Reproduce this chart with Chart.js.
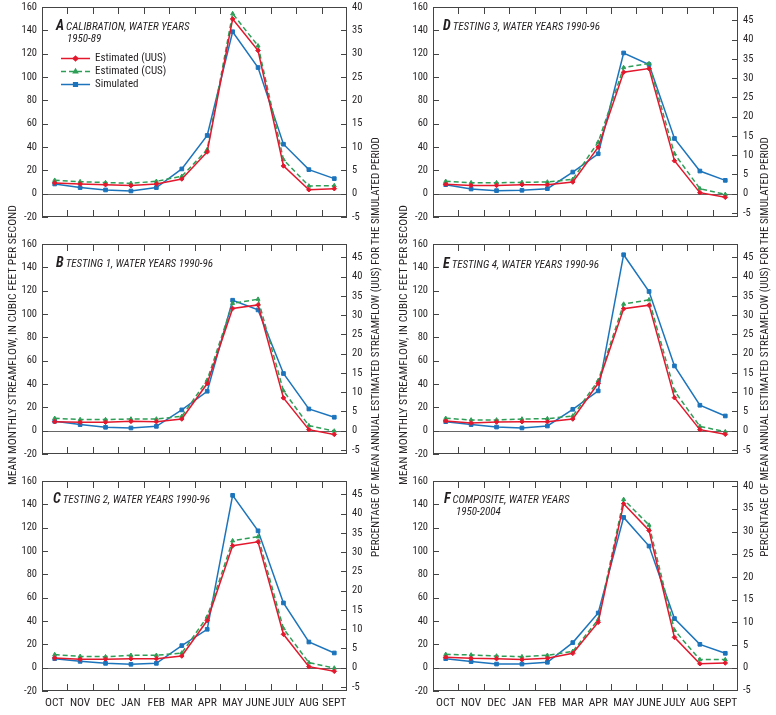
<!DOCTYPE html>
<html lang="en">
<head>
  <meta charset="UTF-8" />
  <title>Mean monthly streamflow</title>
  <script src="https://cdn.jsdelivr.net/npm/chart.js"></script>
  <style>
    body { margin: 0; background: #fff; }
    #wrap { position: relative; width: 776px; height: 715px; overflow: hidden; font-family: 'Roboto Condensed', 'DejaVu Sans Condensed', sans-serif; color: #231f20; }
    canvas { position: absolute; }
    .ptitle { position: absolute; font-style: italic; font-size: 11px; line-height: 12px; white-space: nowrap; }
    .ptitle b { font-size: 14px; margin-right: 2px; }
    .ytitle { position: absolute; width: 600px; height: 14px; line-height: 14px; font-size: 11px; text-align: center; transform: rotate(-90deg); white-space: nowrap; }
  </style>
</head>
<body>
<div id="wrap">
  <canvas id="cA"></canvas>
  <canvas id="cB"></canvas>
  <canvas id="cC"></canvas>
  <canvas id="cD"></canvas>
  <canvas id="cE"></canvas>
  <canvas id="cF"></canvas>

  <div class="ptitle" style="left:56px;top:19px"><b>A</b>CALIBRATION, WATER YEARS<br><span style="padding-left:11px">1950-89</span></div>
  <div class="ptitle" style="left:56px;top:256px"><b>B</b>TESTING 1, WATER YEARS 1990-96</div>
  <div class="ptitle" style="left:53px;top:492px"><b>C</b>TESTING 2, WATER YEARS 1990-96</div>
  <div class="ptitle" style="left:443px;top:19px"><b>D</b>TESTING 3, WATER YEARS 1990-96</div>
  <div class="ptitle" style="left:443px;top:257px"><b>E</b>TESTING 4, WATER YEARS 1990-96</div>
  <div class="ptitle" style="left:444px;top:492px"><b>F</b>COMPOSITE, WATER YEARS<br><span style="padding-left:12px">1950-2004</span></div>

  <div class="ytitle" data-len="280" style="left:-288px;top:338px">MEAN MONTHLY STREAMFLOW, IN CUBIC FEET PER SECOND</div>
  <div class="ytitle" data-len="280" style="left:103px;top:338px">MEAN MONTHLY STREAMFLOW, IN CUBIC FEET PER SECOND</div>
  <div class="ytitle" data-len="420" style="left:76px;top:340px">PERCENTAGE OF MEAN ANNUAL ESTIMATED STREAMFLOW (UUS) FOR THE SIMULATED PERIOD</div>
  <div class="ytitle" data-len="420" style="left:465px;top:340px">PERCENTAGE OF MEAN ANNUAL ESTIMATED STREAMFLOW (UUS) FOR THE SIMULATED PERIOD</div>
</div>

<script>
  // data (cubic feet per second)
  const months = ['OCT', 'NOV', 'DEC', 'JAN', 'FEB', 'MAR', 'APR', 'MAY', 'JUNE', 'JULY', 'AUG', 'SEPT'];
  const cfsTicks = [-20, 0, 20, 40, 60, 80, 100, 120, 140, 160];

  const uusA = [9.2, 8.3, 7.7, 6.9, 8.3, 12.6, 35.8, 149.7, 122.7, 23.8, 3.4, 4.3];
  const cusA = [11.5, 10.3, 9.5, 8.9, 10.6, 14.9, 37.8, 154.3, 126.7, 29.2, 6.6, 6.9];
  const simA = [8.3, 5.2, 3.2, 2.3, 5.2, 21.2, 49.9, 138.8, 108.1, 42.4, 20.6, 12.9];

  const uusB = [7.7, 7.2, 7.2, 8.0, 7.7, 10.0, 40.4, 104.7, 107.8, 28.1, 0.9, -3.2];
  const cusB = [10.6, 9.5, 9.5, 10.0, 10.0, 12.3, 43.3, 109.2, 112.7, 34.1, 4.3, -0.3];
  const simB = [8.0, 5.2, 2.9, 2.3, 3.7, 17.8, 33.8, 111.8, 103.5, 49.0, 18.6, 11.5];

  const uusC = [8.3, 7.2, 7.2, 7.7, 7.7, 10.0, 40.4, 104.5, 107.9, 28.6, 0.9, -3.1];
  const cusC = [11.2, 9.7, 9.4, 10.6, 10.6, 12.6, 43.5, 108.8, 112.2, 33.5, 4.3, -0.3];
  const simC = [7.7, 5.4, 3.7, 2.9, 3.7, 18.9, 32.9, 147.7, 117.3, 55.5, 22.0, 12.6];

  const uusD = [8.0, 7.1, 7.1, 7.7, 7.7, 10.0, 39.9, 104.1, 107.2, 28.2, 0.9, -3.1];
  const cusD = [10.6, 9.4, 9.4, 9.7, 10.0, 12.3, 44.2, 108.1, 111.5, 34.2, 4.3, -0.6];
  const simD = [7.7, 4.0, 2.6, 2.9, 4.3, 18.5, 34.2, 120.6, 110.7, 47.3, 19.4, 11.4];

  const uusE = [8.3, 6.6, 7.4, 7.7, 7.7, 10.0, 40.6, 104.5, 107.6, 28.3, 0.9, -3.1];
  const cusE = [10.6, 9.2, 9.2, 10.0, 10.3, 12.6, 42.9, 108.5, 112.2, 34.1, 3.7, -0.9];
  const simE = [7.7, 5.2, 3.1, 2.3, 4.0, 18.3, 34.1, 150.8, 119.3, 55.5, 21.8, 12.6];

  const uusF = [8.9, 8.0, 7.7, 6.9, 8.0, 12.3, 38.9, 140.5, 117.6, 26.0, 3.4, 4.0];
  const cusF = [11.4, 10.9, 10.0, 9.4, 10.6, 14.0, 41.2, 144.2, 122.2, 32.1, 6.9, 6.9];
  const simF = [7.7, 5.2, 3.1, 3.1, 4.6, 21.5, 46.9, 128.8, 104.2, 42.1, 20.0, 12.3];

  // right axis: percent of mean annual estimated streamflow
  const pctTicksA = [-5, 0, 5, 10, 15, 20, 25, 30, 35, 40];
  const pctTicksTest = [-5, 0, 5, 10, 15, 20, 25, 30, 35, 40, 45];
  const pctTicksF = [-5, 0, 5, 10, 15, 20, 25, 30, 35, 40];
  // cfs that equal one percent on the right axis
  const cfsPerPctA = 4.0;
  const cfsPerPctTest = 3.3;
  const cfsPerPctF = 3.89;

  const FONT = "'Roboto Condensed', 'DejaVu Sans Condensed', sans-serif";
  const INK = '#231f20';
  const RED = '#e3182d', GREEN = '#2e9e57', BLUE = '#1c74bc';

  const colLeft = [42, 433];
  const rowTop = [7, 244, 481];
  const plotW = 305, plotH = 210;
  const yW = 32, y2W = 30, padTop = 7;

  // squeeze the long axis titles to the length they have in the figure
  const meas = document.createElement('canvas').getContext('2d');
  meas.font = '11px ' + FONT;
  document.querySelectorAll('.ytitle').forEach(el => {
    const w = meas.measureText(el.textContent).width;
    el.style.fontSize = Math.min(12, 11 * (+el.dataset.len) / w).toFixed(2) + 'px';
  });

  // frame, zero line, inward tick marks, legend
  const framePlugin = {
    id: 'frame',
    beforeDatasetsDraw(chart) {
      const { ctx, chartArea: a, scales } = chart;
      const x = scales.x, y = scales.y, y2 = scales.y2;
      ctx.save();
      ctx.lineWidth = 1;
      ctx.strokeStyle = '#666';
      const z = Math.round(y.getPixelForValue(0)) + 0.5;
      ctx.beginPath(); ctx.moveTo(a.left, z); ctx.lineTo(a.right, z); ctx.stroke();

      ctx.strokeStyle = '#444';
      ctx.strokeRect(Math.round(a.left) + 0.5, Math.round(a.top) + 0.5, Math.round(a.width) - 1, Math.round(a.height) - 1);
      ctx.beginPath();
      for (let i = 1; i < months.length; i++) {
        const bx = Math.round((x.getPixelForValue(i - 1) + x.getPixelForValue(i)) / 2) + 0.5;
        ctx.moveTo(bx, a.top); ctx.lineTo(bx, a.top + 7);
        ctx.moveTo(bx, a.bottom); ctx.lineTo(bx, a.bottom - 7);
      }
      y.ticks.forEach(t => {
        const py = Math.round(y.getPixelForValue(t.value)) + 0.5;
        ctx.moveTo(a.left, py); ctx.lineTo(a.left + 6, py);
      });
      y2.ticks.forEach(t => {
        const py = Math.round(y2.getPixelForValue(t.value)) + 0.5;
        ctx.moveTo(a.right, py); ctx.lineTo(a.right - 6, py);
      });
      ctx.stroke();
      ctx.restore();
    },
    afterDatasetsDraw(chart, args, opts) {
      if (!opts.legend) return;
      const { ctx, chartArea: a } = chart;
      ctx.save();
      ctx.font = '11px ' + FONT;
      ctx.textBaseline = 'middle';
      chart.data.datasets.forEach((ds, i) => {
        const ly = Math.round(a.top + 51 + i * 13) + 0.5;
        const x0 = a.left + 19, x1 = a.left + 48;
        ctx.strokeStyle = ds.borderColor;
        ctx.lineWidth = ds.borderWidth;
        ctx.setLineDash(ds.borderDash || []);
        ctx.beginPath(); ctx.moveTo(x0, ly); ctx.lineTo(x1, ly); ctx.stroke();
        ctx.setLineDash([]);
        ctx.fillStyle = ds.borderColor;
        Chart.helpers.drawPoint(ctx, { pointStyle: ds.pointStyle, radius: ds.pointRadius, borderWidth: 1, rotation: 0 }, (x0 + x1) / 2, ly);
        ctx.fillStyle = INK;
        ctx.fillText(ds.label, a.left + 53, ly);
      });
      ctx.restore();
    }
  };

  // keep the plot box where it is: no extra room for half labels
  const noPad = s => { s.paddingTop = 0; s.paddingBottom = 0; s.paddingLeft = 0; s.paddingRight = 0; };

  function makePanel(id, col, row, uus, cus, sim, cfsPerPct, pctTicks, legend) {
    const bottom = row === 2;
    const xH = bottom ? 22 : 8;
    const cv = document.getElementById(id);
    cv.width = yW + plotW + y2W;
    cv.height = padTop + plotH + xH;
    cv.style.left = (colLeft[col] - yW) + 'px';
    cv.style.top = (rowTop[row] - padTop) + 'px';

    const series = (label, data, color, style, r, dash) => ({
      label, data, borderColor: color, backgroundColor: color,
      borderWidth: 1.5, borderDash: dash, pointStyle: style, pointRadius: r,
      pointBorderWidth: 1, pointBackgroundColor: color, pointBorderColor: color,
      tension: 0, fill: false
    });

    new Chart(cv, {
      type: 'line',
      data: {
        labels: months,
        datasets: [
          series('Estimated (UUS)', uus, RED, 'rectRot', 2.3, []),
          series('Estimated (CUS)', cus, GREEN, 'triangle', 2.3, [5, 3]),
          series('Simulated', sim, BLUE, 'rect', 2.6, [])
        ]
      },
      options: {
        responsive: false,
        animation: false,
        layout: { padding: { top: padTop, left: 0, right: 0, bottom: 0 } },
        plugins: {
          legend: { display: false },
          tooltip: { enabled: false },
          frame: { legend }
        },
        scales: {
          x: {
            offset: true,
            grid: { display: false, drawTicks: false },
            border: { display: false },
            ticks: { display: bottom, padding: 5, color: INK, font: { family: FONT, size: 11.5 }, maxRotation: 0, autoSkip: false },
            afterFit: s => { s.height = xH; noPad(s); }
          },
          y: {
            position: 'left',
            min: cfsTicks[0], max: cfsTicks[cfsTicks.length - 1],
            grid: { display: false, drawTicks: false },
            border: { display: false },
            ticks: { padding: 5, color: INK, font: { family: FONT, size: 10.5 } },
            afterBuildTicks: s => { s.ticks = cfsTicks.map(v => ({ value: v })); },
            afterFit: s => { s.width = yW; noPad(s); }
          },
          y2: {
            position: 'right',
            min: cfsTicks[0] / cfsPerPct, max: cfsTicks[cfsTicks.length - 1] / cfsPerPct,
            grid: { display: false, drawTicks: false },
            border: { display: false },
            ticks: { padding: 5, color: INK, font: { family: FONT, size: 10.5 } },
            afterBuildTicks: s => { s.ticks = pctTicks.map(v => ({ value: v })); },
            afterFit: s => { s.width = y2W; noPad(s); }
          }
        }
      },
      plugins: [framePlugin]
    });
  }

  makePanel('cA', 0, 0, uusA, cusA, simA, cfsPerPctA, pctTicksA, true);
  makePanel('cB', 0, 1, uusB, cusB, simB, cfsPerPctTest, pctTicksTest, false);
  makePanel('cC', 0, 2, uusC, cusC, simC, cfsPerPctTest, pctTicksTest, false);
  makePanel('cD', 1, 0, uusD, cusD, simD, cfsPerPctTest, pctTicksTest, false);
  makePanel('cE', 1, 1, uusE, cusE, simE, cfsPerPctTest, pctTicksTest, false);
  makePanel('cF', 1, 2, uusF, cusF, simF, cfsPerPctF, pctTicksF, false);
</script>
</body>
</html>
